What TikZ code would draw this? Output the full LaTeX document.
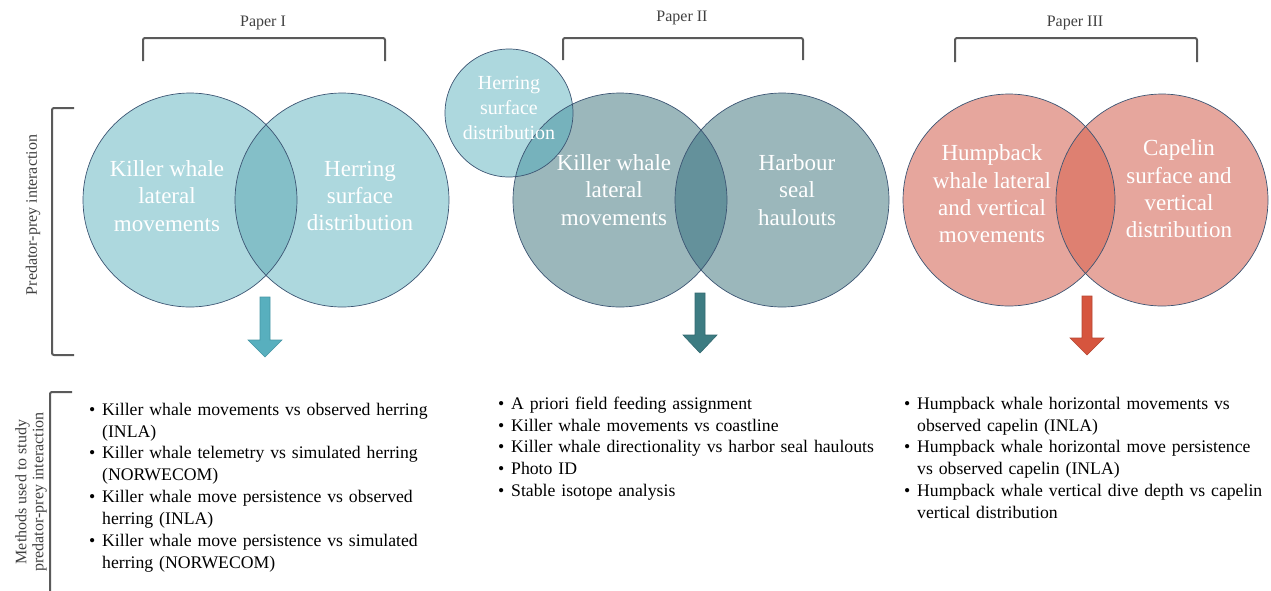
\documentclass[tikz,border=0pt]{standalone}
\usepackage{fontspec}
\setmainfont{Liberation Serif}
\definecolor{edgecol}{RGB}{60,85,115}
\definecolor{pIfill}{RGB}{173,216,222}
\definecolor{pIov}{RGB}{132,191,200}
\definecolor{pIIfill}{RGB}{155,183,187}
\definecolor{pIIov}{RGB}{100,145,155}
\definecolor{pIIsm}{RGB}{118,178,188}
\definecolor{pIIIfill}{RGB}{230,166,157}
\definecolor{pIIIov}{RGB}{222,128,113}
\definecolor{arrI}{RGB}{88,175,190}
\definecolor{arrIedge}{RGB}{70,150,165}
\definecolor{arrII}{RGB}{61,124,130}
\definecolor{arrIIedge}{RGB}{50,105,112}
\definecolor{arrIII}{RGB}{214,85,62}
\definecolor{arrIIIedge}{RGB}{180,70,50}
\definecolor{brgray}{RGB}{90,90,90}
\definecolor{labgray}{RGB}{64,64,64}
\newcommand{\litem}{\par\hangindent=13pt\hangafter=1\noindent\makebox[13pt][l]{\textbullet}}
\begin{document}
\begin{tikzpicture}[x=1pt,y=-1pt,
  outline/.style={draw=edgecol, line width=0.7pt},
  vtext/.style={text=white, align=center, inner sep=0pt, font=\fontsize{23}{27.3}\selectfont},
  vsmall/.style={text=white, align=center, inner sep=0pt, font=\fontsize{20}{25}\selectfont},
  paperlab/.style={text=labgray, inner sep=0pt, font=\fontsize{16}{19}\selectfont},
  sidelab/.style={text=labgray, inner sep=0pt, align=center, rotate=90, font=\fontsize{16}{17}\selectfont},
  bracketline/.style={draw=brgray, line width=2pt, rounded corners=2pt},
  listtext/.style={anchor=north west, inner sep=0pt, align=left, text width=400pt, font=\fontsize{17.7}{21.9}\selectfont},
  blockarrow/.style={line width=0.6pt}
]
\useasboundingbox (0,0) rectangle (1271,590);

% ---------- Paper I ----------
\fill[pIfill] (190,200) circle (107);
\fill[pIfill] (342,200) circle (107);
\begin{scope}
  \clip (190,200) circle (107);
  \fill[pIov] (342,200) circle (107);
\end{scope}
\draw[outline] (190,200) circle (107);
\draw[outline] (342,200) circle (107);
\node[vtext] (kwI) at (167,196) {Killer whale\\lateral\\movements};
\node[vtext] (herI) at (360,196) {Herring\\surface\\distribution};

% ---------- Paper II ----------
\fill[pIIfill] (620,200) circle (107);
\fill[pIIfill] (782,200) circle (107);
\begin{scope}
  \clip (620,200) circle (107);
  \fill[pIIov] (782,200) circle (107);
\end{scope}
\fill[pIfill] (509,113) circle (64);
\begin{scope}
  \clip (509,113) circle (64);
  \fill[pIIsm] (620,200) circle (107);
\end{scope}
\draw[outline] (620,200) circle (107);
\draw[outline] (782,200) circle (107);
\draw[outline] (509,113) circle (64);
\node[vsmall] (herII) at (509,108) {Herring\\surface\\distribution};
\node[vtext] (kwII) at (614,190) {Killer whale\\lateral\\movements};
\node[vtext] (seal) at (797,190) {Harbour\\seal\\haulouts};

% ---------- Paper III ----------
\fill[pIIIfill] (1009,200) circle (106);
\fill[pIIIfill] (1162,200) circle (106);
\begin{scope}
  \clip (1009,200) circle (106);
  \fill[pIIIov] (1162,200) circle (106);
\end{scope}
\draw[outline] (1009,200) circle (106);
\draw[outline] (1162,200) circle (106);
\node[vtext] (hw) at (992,194) {Humpback\\whale lateral\\and vertical\\movements};
\node[vtext] (cap) at (1179,189) {Capelin\\surface and\\vertical\\distribution};

% ---------- top brackets ----------
\node[paperlab] (pI) at (263,23) {Paper I};
\node[paperlab] (pII) at (682,18) {Paper II};
\node[paperlab] (pIII) at (1075,23) {Paper III};
\draw[bracketline] (143,61) -- (143,38) -- (385,38) -- (385,61);
\draw[bracketline] (563,60) -- (563,38) -- (803,38) -- (803,60);
\draw[bracketline] (955,62) -- (955,38) -- (1197,38) -- (1197,62);

% ---------- left brackets ----------
\draw[bracketline] (74,108) -- (52,108) -- (52,355) -- (74,355);
\draw[bracketline] (72,392) -- (50,392) -- (50,600);
\node[sidelab] (pp) at (33,215) {Predator-prey interaction};
\node[sidelab] (meth) at (31,492) {Methods used to study\\predator-prey interaction};

% ---------- block arrows ----------
\filldraw[blockarrow, fill=arrI, draw=arrIedge]
  (260,297) -- (270,297) -- (270,340) -- (282,340) -- (265,357) -- (248,340) -- (260,340) -- cycle;
\filldraw[blockarrow, fill=arrII, draw=arrIIedge]
  (695,293) -- (705,293) -- (705,335) -- (717,335) -- (700,353) -- (683,335) -- (695,335) -- cycle;
\filldraw[blockarrow, fill=arrIII, draw=arrIIIedge]
  (1082,296) -- (1092,296) -- (1092,338) -- (1104,338) -- (1087,355) -- (1070,338) -- (1082,338) -- cycle;

% ---------- lists ----------
\node[listtext] (listI) at (89,393) {%
\litem Killer whale movements vs observed herring\newline (INLA)
\litem Killer whale telemetry vs simulated herring\newline (NORWECOM)
\litem Killer whale move persistence vs observed\newline herring (INLA)
\litem Killer whale move persistence vs simulated\newline herring (NORWECOM)\par};
\node[listtext] (listII) at (498,387) {%
\litem A priori field feeding assignment
\litem Killer whale movements vs coastline
\litem Killer whale directionality vs harbor seal haulouts
\litem Photo ID
\litem Stable isotope analysis\par};
\node[listtext] (listIII) at (904,387) {%
\litem Humpback whale horizontal movements vs\newline observed capelin (INLA)
\litem Humpback whale horizontal move persistence\newline vs observed capelin (INLA)
\litem Humpback whale vertical dive depth vs capelin\newline vertical distribution\par};
\end{tikzpicture}
\end{document}
